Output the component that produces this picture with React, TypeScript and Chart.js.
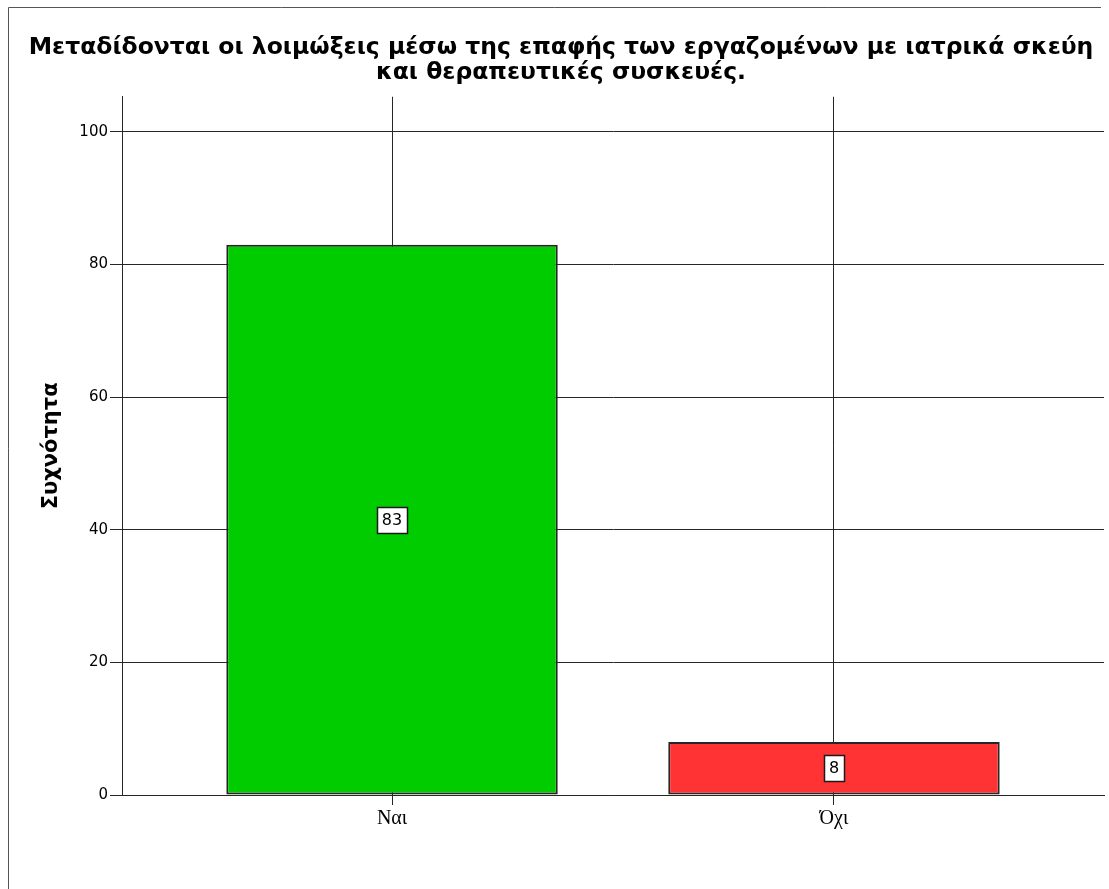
import React, { useEffect, useRef } from 'react';
import { Chart, registerables } from 'chart.js';

Chart.register(...registerables);

// Survey answers and their frequencies
const categories: string[] = ['Ναι', 'Όχι'];
const counts: number[] = [83, 8];
const barColors: string[] = ['#00CC00', '#FF3333'];

// Chart texts
const titleLines: string[] = [
  'Μεταδίδονται οι λοιμώξεις μέσω της επαφής των εργαζομένων με ιατρικά σκεύη',
  'και θεραπευτικές συσκευές.',
];
const yAxisTitle = 'Συχνότητα';

// Value axis range and tick spacing
const yMin = 0;
const yMax = 105.3;
const yStep = 20;

const W = 1109;
const H = 889;

// Framed white background, partly open on the right and bottom
const framePlugin = {
  id: 'frame',
  beforeDraw(chart: Chart) {
    const ctx = chart.ctx;
    ctx.save();
    ctx.fillStyle = '#ffffff';
    ctx.fillRect(0, 0, chart.width, chart.height);
    ctx.strokeStyle = '#555555';
    ctx.lineWidth = 1;
    ctx.beginPath();
    ctx.moveTo(8.5, chart.height);
    ctx.lineTo(8.5, 7.5);
    ctx.lineTo(1101, 7.5);
    ctx.stroke();
    ctx.restore();
  },
};

// Boxed count label in the middle of each bar
const valueBoxPlugin = {
  id: 'valueBox',
  afterDatasetsDraw(chart: Chart) {
    const ctx = chart.ctx;
    const meta = chart.getDatasetMeta(0);
    ctx.save();
    ctx.font = '16px "DejaVu Sans"';
    ctx.textAlign = 'center';
    ctx.textBaseline = 'middle';
    meta.data.forEach((el: any, i: number) => {
      const text = String(counts[i]);
      const cx = el.x;
      const cy = (el.y + el.base) / 2;
      const tw = ctx.measureText(text).width;
      const bw = Math.round(tw + 10);
      const bh = 26;
      const bx = Math.round(cx - bw / 2) + 0.5;
      const by = Math.round(cy - bh / 2) + 0.5;
      ctx.fillStyle = '#ffffff';
      ctx.fillRect(bx, by, bw, bh);
      ctx.strokeStyle = '#1a1a1a';
      ctx.lineWidth = 1.5;
      ctx.strokeRect(bx, by, bw, bh);
      ctx.fillStyle = '#000000';
      ctx.fillText(text, cx, cy + 1);
    });
    ctx.restore();
  },
};

export default function App() {
  const canvasRef = useRef<HTMLCanvasElement | null>(null);

  useEffect(() => {
    document.body.style.margin = '0';
    const canvas = canvasRef.current;
    if (!canvas) return;

    const chart = new Chart(canvas, {
      type: 'bar',
      data: {
        datasets: [
          {
            data: categories.map((_, i) => ({ x: i, y: counts[i] })),
            backgroundColor: barColors,
            borderColor: '#262626',
            borderWidth: 2,
            borderSkipped: false,
            categoryPercentage: 1,
            barPercentage: 0.75,
          },
        ],
      },
      options: {
        responsive: false,
        animation: false,
        devicePixelRatio: 1,
        layout: { padding: { left: 18, right: 5, top: 0, bottom: 0 } },
        plugins: {
          legend: { display: false },
          tooltip: { enabled: false },
          title: {
            display: true,
            text: titleLines,
            color: '#000000',
            font: { family: '"DejaVu Sans"', size: 23.5, weight: 'bold', lineHeight: 1.08 },
            padding: { top: 35, bottom: 11 },
          },
        },
        scales: {
          x: {
            type: 'linear',
            offset: false,
            min: -0.611,
            max: 1.611,
            afterFit(scale: any) {
              scale.height = H - 795;
            },
            ticks: {
              stepSize: 1,
              includeBounds: false,
              autoSkip: false,
              maxRotation: 0,
              padding: 2,
              color: '#000000',
              font: { family: '"Liberation Serif"', size: 20 },
              callback: (v: any) => categories[v as number] ?? '',
            },
            grid: {
              offset: false,
              color: '#262626',
              lineWidth: 1,
              tickLength: 10,
              drawTicks: true,
            },
            border: { display: true, color: '#262626', width: 1 },
          },
          y: {
            type: 'linear',
            min: yMin,
            max: yMax,
            afterFit(scale: any) {
              scale.width = 122 - 18;
            },
            ticks: {
              stepSize: yStep,
              includeBounds: false,
              padding: 2,
              color: '#000000',
              font: { family: '"DejaVu Sans"', size: 15 },
            },
            grid: {
              color: '#262626',
              lineWidth: 1,
              tickLength: 12,
            },
            border: { display: true, color: '#262626', width: 1 },
            title: {
              display: true,
              text: yAxisTitle,
              color: '#000000',
              font: { family: '"DejaVu Sans"', size: 21, weight: 'bold', lineHeight: 1.2 },
              padding: { top: 21, bottom: 0 },
            },
          },
        },
      },
      plugins: [framePlugin, valueBoxPlugin],
    });

    return () => chart.destroy();
  }, []);

  return (
    <div style={{ width: W, height: H, position: 'relative' }}>
      <canvas ref={canvasRef} width={W} height={H} style={{ display: 'block' }} />
    </div>
  );
}
